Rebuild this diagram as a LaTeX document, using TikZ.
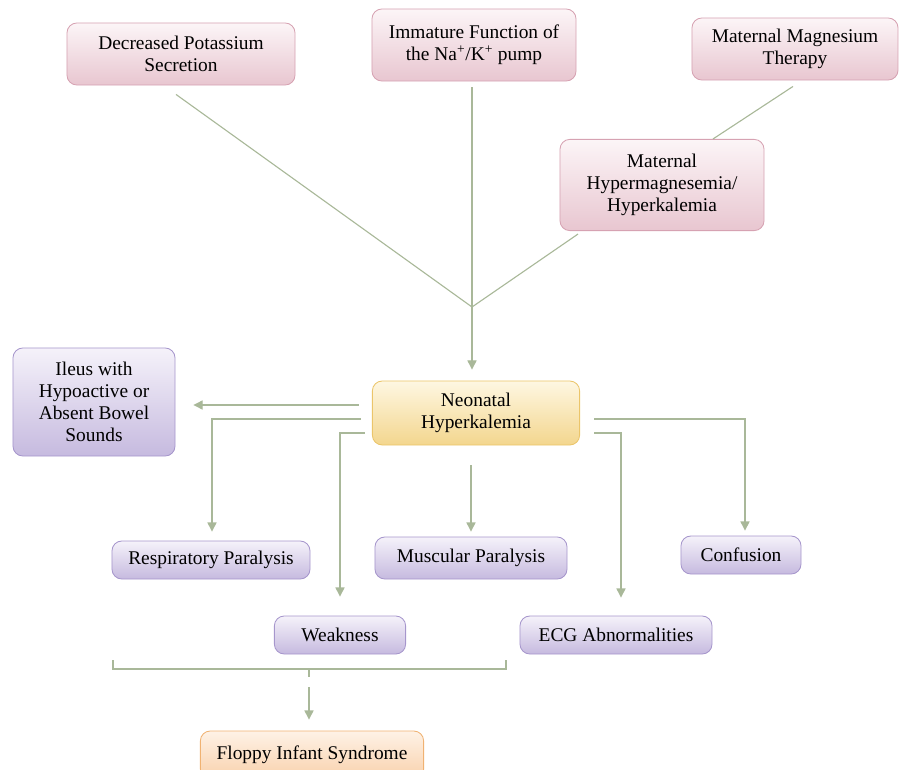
\documentclass[tikz,border=0pt]{standalone}
\usepackage{fontspec}
\setmainfont{Liberation Serif}
\usepackage{xcolor}
\usetikzlibrary{arrows.meta, positioning, calc}

\definecolor{pinktop}{HTML}{FCF5F7}
\definecolor{pinkbot}{HTML}{E8C6D0}
\definecolor{pinkline}{HTML}{D6A2B2}
\definecolor{purptop}{HTML}{F5F2FA}
\definecolor{purpbot}{HTML}{C6BADF}
\definecolor{purpline}{HTML}{A696CC}
\definecolor{yeltop}{HTML}{FEF7E2}
\definecolor{yelbot}{HTML}{F3D68E}
\definecolor{yelline}{HTML}{EBC56A}
\definecolor{orntop}{HTML}{FEF2E6}
\definecolor{ornbot}{HTML}{F9D1AC}
\definecolor{ornline}{HTML}{F0B272}
\definecolor{linkcol}{HTML}{A9B899}

\tikzset{
  box/.style={draw, rounded corners=7pt, align=center, inner sep=2pt, line width=0.6pt,
    font=\fontsize{13.8}{15.6}\selectfont},
  causebox/.style={box, top color=pinktop, bottom color=pinkbot, draw=pinkline},
  signbox/.style={box, top color=purptop, bottom color=purpbot, draw=purpline},
  mainbox/.style={box, top color=yeltop, bottom color=yelbot, draw=yelline},
  endbox/.style={box, top color=orntop, bottom color=ornbot, draw=ornline},
  link/.style={draw=linkcol, line width=0.8pt},
  arr/.style={link, -{Triangle[length=6.5pt, width=6.5pt]}}
}

\begin{document}
\begin{tikzpicture}[x=0.025cm, y=-0.025cm]
  \useasboundingbox (0,0) rectangle (899,769);

  % causes
  \node[causebox, minimum width=5.7cm, minimum height=1.55cm] (potassium) at (181,54)
    {Decreased Potassium\\Secretion};
  \node[causebox, minimum width=5.1cm, minimum height=1.8cm] (pump) at (474,45)
    {Immature Function of\\the Na\textsuperscript{+}/K\textsuperscript{+} pump};
  \node[causebox, minimum width=5.15cm, minimum height=1.55cm] (therapy) at (795,49)
    {Maternal Magnesium\\Therapy};
  \node[causebox, minimum width=5.1cm, minimum height=2.28cm] (hypermag) at (662,185)
    {Maternal\\Hypermagnesemia/\\Hyperkalemia};

  % main
  \node[mainbox, minimum width=5.18cm, minimum height=1.6cm] (hyperkal) at (476,413)
    {Neonatal\\Hyperkalemia};

  % signs
  \node[signbox, minimum width=4.05cm, minimum height=2.7cm] (ileus) at (94,402)
    {Ileus with\\Hypoactive or\\Absent Bowel\\Sounds};
  \node[signbox, minimum width=4.95cm, minimum height=0.95cm] (resp) at (211,560)
    {Respiratory Paralysis};
  \node[signbox, minimum width=4.8cm, minimum height=1.05cm] (musc) at (471,558)
    {Muscular Paralysis};
  \node[signbox, minimum width=3cm, minimum height=0.95cm] (conf) at (741,555)
    {Confusion};
  \node[signbox, minimum width=3.28cm, minimum height=0.95cm] (weak) at (340,635)
    {Weakness};
  \node[signbox, minimum width=4.8cm, minimum height=0.95cm] (ecg) at (616,635)
    {ECG Abnormalities};

  % outcome
  \node[endbox, minimum width=5.58cm, minimum height=1.2cm] (floppy) at (312,755)
    {\raisebox{2.5pt}{Floppy Infant Syndrome}};

  % causes into the main box
  \coordinate (join) at (472,307);
  \draw[link] ($(potassium.south)+(-5,9)$) -- (join);
  \draw[link] ($(pump.south -| join)+(0,6)$) -- (join);
  \draw[link] ($(therapy.south)+(-2,6)$) -- ($(hypermag.north)+(51,0)$);
  \draw[link] ($(hypermag.south)+(-84,3)$) -- (join);
  \draw[arr] (join) -- ($(hyperkal.north -| join)+(0,-11)$);

  % main box to signs
  \draw[arr] ($(hyperkal.west)+(-13,-8)$) -- ($(hyperkal.west -| ileus.east)+(18,-8)$);
  \draw[arr] ($(hyperkal.west)+(-11,6)$) -| ($(resp.north)+(1,-9)$);
  \draw[arr] ($(hyperkal.west)+(-7,20)$) -| ($(weak.north)+(0,-19)$);
  \draw[arr] ($(hyperkal.south -| musc.north)+(0,20)$) -- ($(musc.north)+(0,-5)$);
  \draw[arr] ($(hyperkal.east)+(14,6)$) -| ($(conf.north)+(4,-5)$);
  \draw[arr] ($(hyperkal.east)+(14,20)$) -| ($(ecg.north)+(5,-18)$);

  % bracket to the outcome
  \coordinate (brace) at (309,669);
  \draw[link] (113,660) |- (brace) -| (506,660);
  \draw[link] (brace) -- ++(0,8);
  \draw[arr] ($(brace)+(0,18)$) -- ($(floppy.north -| brace)+(0,-11)$);

\end{tikzpicture}
\end{document}
